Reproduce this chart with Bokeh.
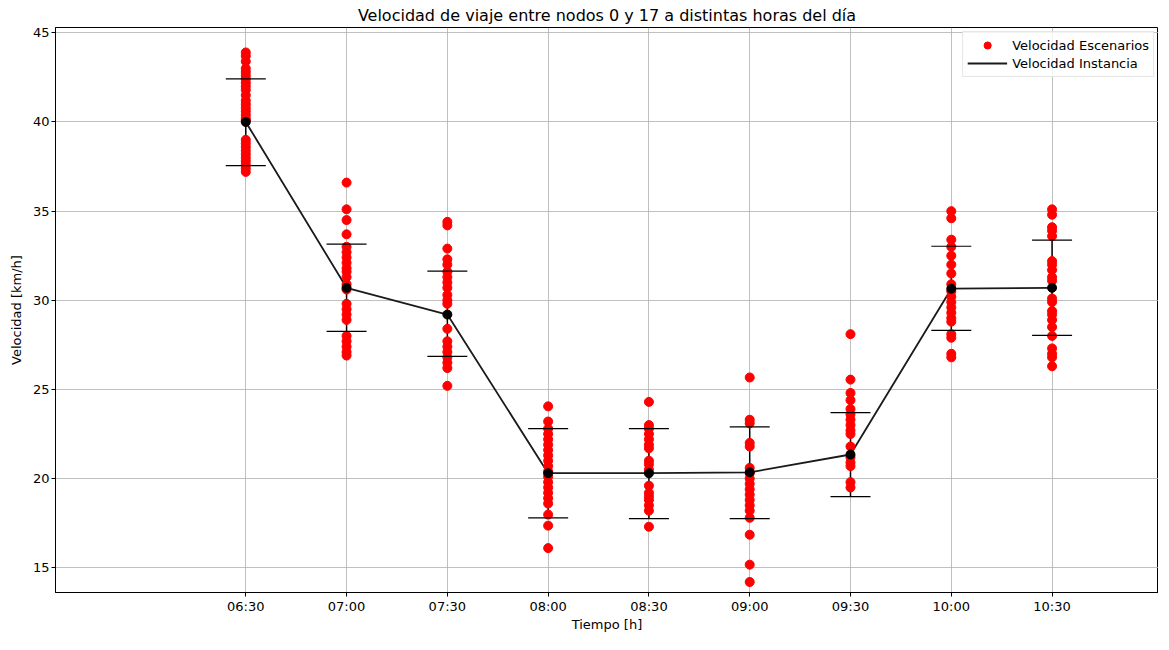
from bokeh.plotting import figure
from bokeh.models import FixedTicker, Range1d, Legend, LegendItem
from bokeh.embed import file_html
from bokeh.resources import INLINE

hours = [6.5, 7.0, 7.5, 8.0, 8.5, 9.0, 9.5, 10.0, 10.5]
tick_labels = ["06:30", "07:00", "07:30", "08:00", "08:30", "09:00", "09:30", "10:00", "10:30"]
mean_speed = [40.0, 30.7, 29.2, 20.3, 20.3, 20.35, 21.35, 30.65, 30.7]
upper_speed = [42.42, 33.15, 31.63, 22.8, 22.8, 22.9, 23.7, 33.03, 33.37]
lower_speed = [37.55, 28.26, 26.85, 17.8, 17.75, 17.75, 18.99, 28.31, 28.03]

scen_0630 = [43.9, 43.7, 43.4, 43.0, 42.8, 42.6, 42.4, 42.2, 42.0, 41.8, 41.5, 41.2, 41.0,
             40.8, 40.6, 40.4, 40.2, 40.1, 39.0, 38.8, 38.6, 38.4, 38.2, 38.0, 37.8, 37.6,
             37.4, 37.2]
scen_0700 = [36.6, 35.1, 34.5, 33.7, 33.0, 32.7, 32.4, 32.1, 31.8, 31.6, 31.3, 30.9, 30.6,
             29.8, 29.5, 29.2, 28.9, 28.0, 27.7, 27.4, 27.1, 26.9]
scen_0730 = [34.4, 34.2, 32.9, 32.3, 32.0, 31.6, 31.3, 31.0, 30.7, 30.3, 30.0, 29.8, 28.4,
             27.7, 27.4, 27.1, 26.8, 26.5, 26.2, 25.2]
scen_0800 = [24.05, 23.2, 22.8, 22.5, 22.2, 21.9, 21.6, 21.3, 21.0, 20.7, 20.4, 20.1, 19.8,
             19.5, 19.2, 18.9, 18.6, 17.98, 17.36, 16.1]
scen_0830 = [24.3, 23.0, 22.8, 22.5, 22.2, 21.9, 21.7, 21.0, 20.8, 20.5, 19.6, 19.2, 19.0,
             18.8, 18.5, 18.2, 17.3]
scen_0900 = [25.67, 23.3, 23.1, 22.0, 21.8, 20.6, 20.3, 20.0, 19.7, 19.4, 19.1, 18.8, 18.5,
             18.2, 17.8, 16.85, 15.17, 14.2]
scen_0930 = [28.1, 25.55, 24.8, 24.4, 23.9, 23.6, 23.3, 23.0, 22.7, 22.5, 21.8, 21.2, 20.9,
             20.7, 19.8, 19.5]
scen_1000 = [35.0, 34.6, 33.4, 33.0, 32.5, 32.0, 31.5, 30.9, 30.5, 30.2, 29.9, 29.6, 29.3,
             29.0, 28.8, 28.1, 27.9, 27.0, 26.8]
scen_1030 = [35.1, 34.8, 34.1, 33.9, 33.6, 32.2, 32.0, 31.7, 31.3, 31.1, 30.1, 29.9, 29.4,
             29.2, 28.9, 28.5, 28.0, 27.3, 27.0, 26.8, 26.3]

scenarios = [scen_0630, scen_0700, scen_0730, scen_0800, scen_0830, scen_0900,
             scen_0930, scen_1000, scen_1030]

sx, sy = [], []
for h, vals in zip(hours, scenarios):
    sx.extend([h] * len(vals))
    sy.extend(vals)

FONT = "DejaVu Sans"

p = figure(width=1158, height=634, output_backend="svg", toolbar_location=None,
           x_range=Range1d(5.556, 11.028), y_range=Range1d(13.61, 45.3),
           min_border_left=55, min_border_right=0, min_border_top=0, min_border_bottom=0,
           title="Velocidad de viaje entre nodos 0 y 17 a distintas horas del día")

p.title.text_font = FONT
p.title.text_font_size = "16px"
p.title.text_font_style = "normal"
p.title.align = "center"
p.title.text_color = "black"
p.title.standoff = 6

p.outline_line_color = "black"
p.outline_line_width = 1
p.outline_line_alpha = 1

for ax in (p.xaxis, p.yaxis):
    ax.axis_line_color = "black"
    ax.major_tick_line_color = "black"
    ax.major_tick_in = 0
    ax.major_tick_out = 4
    ax.minor_tick_line_color = None
    ax.major_label_text_font = FONT
    ax.major_label_text_font_size = "13px"
    ax.major_label_text_color = "black"
    ax.major_label_standoff = 2
    ax.axis_label_text_font = FONT
    ax.axis_label_text_font_size = "13px"
    ax.axis_label_text_font_style = "normal"
    ax.axis_label_text_color = "black"

p.xaxis.ticker = FixedTicker(ticks=hours)
p.xaxis.major_label_overrides = {h: l for h, l in zip(hours, tick_labels)}
p.yaxis.ticker = FixedTicker(ticks=[15, 20, 25, 30, 35, 40, 45])
p.xaxis.axis_label = "Tiempo [h]"
p.yaxis.axis_label = "Velocidad [km/h]"
p.xaxis.axis_label_standoff = 0
p.yaxis.axis_label_standoff = 6

p.grid.grid_line_color = "#b0b0b0"
p.grid.grid_line_width = 0.8

# error bars (vertical) and mean line
p.segment(x0=hours, y0=lower_speed, x1=hours, y1=upper_speed, line_color="black", line_width=1.5)
mean_line = p.line(hours, mean_speed, line_color="#1a1a1a", line_width=1.8)

red = p.scatter(sx, sy, size=9, fill_color="#ff0000", line_color="#ff0000")

p.scatter(hours, upper_speed, marker="dash", size=40, line_color="black", line_width=1.2)
p.scatter(hours, lower_speed, marker="dash", size=40, line_color="black", line_width=1.2)
p.scatter(hours, mean_speed, size=9, fill_color="black", line_color="black")

legend = Legend(items=[LegendItem(label="Velocidad Escenarios", renderers=[red]),
                       LegendItem(label="Velocidad Instancia", renderers=[mean_line])],
                location="top_right")
legend.label_text_font = FONT
legend.label_text_font_size = "13px"
legend.label_text_color = "black"
legend.glyph_width = 40
legend.glyph_height = 18
legend.label_height = 18
legend.spacing = 0
legend.padding = 4
legend.margin = 4
legend.label_standoff = 5
legend.border_line_color = "#cccccc"
legend.background_fill_alpha = 0.8
p.add_layout(legend)

open("out.html", "w").write(file_html(p, INLINE))
